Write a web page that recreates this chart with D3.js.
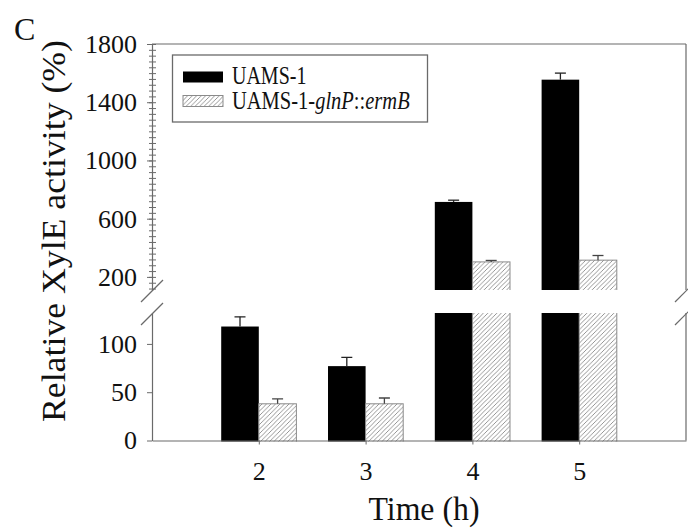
<!DOCTYPE html>
<html>
<head>
<meta charset="utf-8">
<script src="https://cdn.jsdelivr.net/npm/d3@7"></script>
<style>
  html, body { margin: 0; padding: 0; background: #fff; }
  svg { display: block; }
  svg text { font-family: "Liberation Serif", "Times New Roman", Times, serif !important; }
</style>
</head>
<body>
<svg id="chart" width="688" height="531"></svg>
<script>
// Sampling times (h)
const times = [2, 3, 4, 5];
// Relative XylE activity (%) and upward error (SD)
const wildType = [118, 77, 715, 1555];
const wildTypeErr = [10, 9, 12, 45];
const mutant = [38, 38, 303, 315];
const mutantErr = [5, 6, 10, 32];
const seriesNames = ["UAMS-1", "UAMS-1-"];
// Tick labels on the broken y axis
const upperTicks = [200, 600, 1000, 1400, 1800];
const lowerTicks = [0, 50, 100];
const xTicks = [2, 3, 4, 5];

const serif = "'Liberation Serif', 'Times New Roman', Times, serif";
const svg = d3.select("#chart").attr("font-family", serif);
const axisColor = "#6a6a6a";
const hatchColor = "#8a8a8a";

// Scales: shared x, and two y segments for the broken axis
const x = d3.scaleLinear().domain([1, 6]).range([152, 686]);
const yUp = d3.scaleLinear().domain([110, 1800]).range([290, 44]);
const yLo = d3.scaleLinear().domain([0, 132]).range([440.5, 313]);
const barW = x(1.352) - x(1);
const breakValue = yLo.domain()[1];

const defs = svg.append("defs");
const pat = defs.append("pattern")
  .attr("id", "hatch").attr("patternUnits", "userSpaceOnUse")
  .attr("width", 4.5).attr("height", 4.5);
pat.append("rect").attr("width", 4.5).attr("height", 4.5).attr("fill", "#fff");
pat.append("path")
  .attr("d", "M-1,1 l2,-2 M0,4.5 l4.5,-4.5 M3.5,5.5 l2,-2")
  .attr("stroke", hatchColor).attr("stroke-width", 0.9);

defs.append("clipPath").attr("id", "clipUp").append("rect")
  .attr("x", 152).attr("y", yUp.range()[1]).attr("width", 534)
  .attr("height", yUp.range()[0] - yUp.range()[1]);
defs.append("clipPath").attr("id", "clipLo").append("rect")
  .attr("x", 152).attr("y", yLo.range()[1]).attr("width", 534)
  .attr("height", yLo.range()[0] - yLo.range()[1] + 1);

const rows = times.map((t, i) => ({
  t, wt: wildType[i], wtErr: wildTypeErr[i], mu: mutant[i], muErr: mutantErr[i]
}));

function drawPanel(y, clipId, isUpper) {
  const g = svg.append("g").attr("clip-path", `url(#${clipId})`);
  const base = y.range()[0];
  // a value belongs to the upper segment only when it passes the break
  const keep = v => isUpper ? v > breakValue : true;
  // wild type (solid black), left of each tick
  g.selectAll(".wt").data(rows.filter(d => keep(d.wt))).join("rect")
    .attr("x", d => x(d.t) - barW).attr("width", barW)
    .attr("y", d => y(d.wt)).attr("height", d => Math.max(0, base - y(d.wt) + 2))
    .attr("fill", "#000");
  // mutant (hatched), right of each tick
  g.selectAll(".mu").data(rows.filter(d => keep(d.mu))).join("rect")
    .attr("x", d => x(d.t)).attr("width", barW)
    .attr("y", d => y(d.mu)).attr("height", d => Math.max(0, base - y(d.mu) + 2))
    .attr("fill", "url(#hatch)").attr("stroke", hatchColor).attr("stroke-width", 1);
  // upward error bars, only in the segment that holds the bar's top
  const eb = [];
  rows.forEach(d => {
    eb.push({ cx: x(d.t) - barW / 2, v: d.wt, e: d.wtErr, c: "#222" });
    eb.push({ cx: x(d.t) + barW / 2, v: d.mu, e: d.muErr, c: "#444" });
  });
  const shown = eb.filter(d => isUpper ? d.v > breakValue : d.v <= breakValue);
  const eg = g.selectAll(".eb").data(shown).join("g");
  eg.append("line")
    .attr("x1", d => d.cx).attr("x2", d => d.cx)
    .attr("y1", d => y(d.v)).attr("y2", d => y(d.v + d.e))
    .attr("stroke", d => d.c).attr("stroke-width", 1.3);
  eg.append("line")
    .attr("x1", d => d.cx - 5.5).attr("x2", d => d.cx + 5.5)
    .attr("y1", d => y(d.v + d.e)).attr("y2", d => y(d.v + d.e))
    .attr("stroke", d => d.c).attr("stroke-width", 1.3);
}
drawPanel(yUp, "clipUp", true);
drawPanel(yLo, "clipLo", false);

// Frame: top and right edges
const frame = svg.append("g").attr("stroke", axisColor).attr("stroke-width", 1.2).attr("fill", "none");
frame.append("line").attr("x1", 152).attr("x2", 686).attr("y1", 44).attr("y2", 44);
frame.append("line").attr("x1", 686).attr("x2", 686).attr("y1", 44).attr("y2", yUp.range()[0]);
frame.append("line").attr("x1", 686).attr("x2", 686).attr("y1", yLo.range()[1]).attr("y2", yLo.range()[0]);

function styleAxis(g) {
  g.attr("font-family", serif).attr("font-size", 26);
  g.selectAll("path.domain").attr("stroke", axisColor).attr("stroke-width", 1.2);
  g.selectAll(".tick line").attr("stroke", axisColor).attr("stroke-width", 1);
  g.selectAll(".tick text").attr("fill", "#111");
}
const fmt = d3.format("d");

// Upper y segment with dense minor ticks across the axis line
const minor = d3.range(120, 1801, 40);
svg.append("g").attr("transform", "translate(152,0)")
  .call(d3.axisLeft(yUp).tickValues(minor).tickSize(3).tickFormat("").tickSizeOuter(0))
  .call(g => g.select(".domain").remove()).call(styleAxis);
svg.append("g").attr("transform", "translate(152,0)")
  .call(d3.axisLeft(yUp).tickValues(minor).tickSize(-4).tickFormat("").tickSizeOuter(0))
  .call(g => g.select(".domain").remove()).call(styleAxis);
svg.append("g").attr("transform", "translate(152,0)")
  .call(d3.axisLeft(yUp).tickValues(upperTicks).tickFormat(fmt).tickSize(5).tickPadding(10).tickSizeOuter(0))
  .call(styleAxis);

// Lower y segment
svg.append("g").attr("transform", "translate(152,0)")
  .call(d3.axisLeft(yLo).tickValues(lowerTicks).tickFormat(fmt).tickSize(5).tickPadding(10).tickSizeOuter(0))
  .call(styleAxis);

// x axis
svg.append("g").attr("transform", `translate(0,${yLo.range()[0]})`)
  .call(d3.axisBottom(x).tickValues(xTicks).tickFormat(fmt).tickSize(4).tickPadding(17).tickSizeOuter(0))
  .call(styleAxis);

// Break marks on both vertical edges
const breaks = svg.append("g").attr("stroke", axisColor).attr("stroke-width", 1.2);
[152, 686].forEach(ax => {
  [yUp.range()[0] + 1, yLo.range()[1] + 1].forEach(by => {
    breaks.append("line")
      .attr("x1", ax - 11).attr("y1", by + 11)
      .attr("x2", ax + 11).attr("y2", by - 11);
  });
});

// Legend
const lg = svg.append("g");
lg.append("rect").attr("x", 172.5).attr("y", 55).attr("width", 255).attr("height", 67)
  .attr("fill", "#fff").attr("stroke", axisColor).attr("stroke-width", 1.3);
lg.append("rect").attr("x", 183).attr("y", 71.5).attr("width", 40).attr("height", 11).attr("fill", "#000");
lg.append("rect").attr("x", 183).attr("y", 95.5).attr("width", 40).attr("height", 11)
  .attr("fill", "url(#hatch)").attr("stroke", hatchColor).attr("stroke-width", 1);
lg.append("text").attr("transform", "translate(232,84) scale(0.8,1)")
  .attr("font-size", 25).attr("fill", "#111").text(seriesNames[0]);
const t2 = lg.append("text").attr("transform", "translate(232,109) scale(0.82,1)")
  .attr("font-size", 25).attr("fill", "#111");
t2.append("tspan").text(seriesNames[1]);
t2.append("tspan").attr("font-style", "italic").text("glnP");
t2.append("tspan").text("::");
t2.append("tspan").attr("font-style", "italic").text("ermB");

// Axis titles and panel letter
svg.append("text").attr("transform", "translate(65,231) rotate(-90)")
  .attr("text-anchor", "middle").attr("font-size", 34).attr("fill", "#111")
  .attr("textLength", 382).attr("lengthAdjust", "spacingAndGlyphs")
  .text("Relative XylE activity (%)");
svg.append("text").attr("x", 424).attr("y", 519.5).attr("text-anchor", "middle")
  .attr("font-size", 34).attr("fill", "#111")
  .attr("textLength", 111).attr("lengthAdjust", "spacingAndGlyphs")
  .text("Time (h)");
svg.append("text").attr("x", 14).attr("y", 40).attr("font-size", 32).attr("fill", "#111").text("C");
</script>
</body>
</html>
